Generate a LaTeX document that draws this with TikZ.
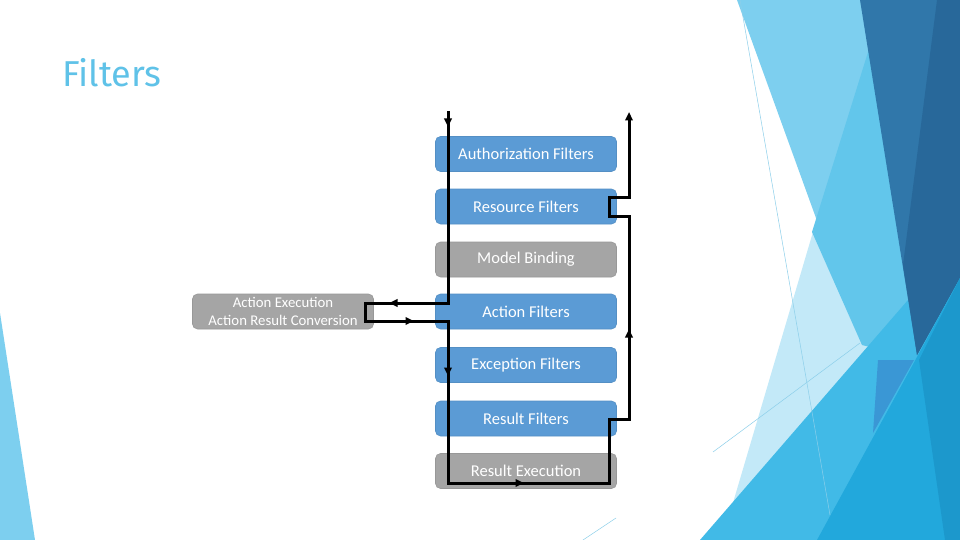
\documentclass[tikz,border=0pt]{standalone}
\usepackage{fontspec}
\newfontfamily\boxfont{Carlito}
\newfontfamily\titlefont{Fira Sans}
\usetikzlibrary{arrows.meta,calc}

\definecolor{stageblue}{HTML}{5B9BD5}
\definecolor{stagegray}{HTML}{A5A5A5}
\definecolor{titleblue}{HTML}{5FC2E8}
\definecolor{facetpale}{HTML}{C3E9F8}
\definecolor{facetlight}{HTML}{7DCFEF}
\definecolor{facetmid}{HTML}{62C6EB}
\definecolor{facetdark}{HTML}{3077AA}
\definecolor{facetdeep}{HTML}{28689A}
\definecolor{facetsky}{HTML}{41BAE7}
\definecolor{facetbright}{HTML}{22A8DC}
\definecolor{facetocean}{HTML}{1C98CC}
\definecolor{facetviolet}{HTML}{3A97D5}
\definecolor{facetline}{HTML}{8CCFEA}

\begin{document}
\begin{tikzpicture}[
  x=1pt, y=-1pt,
  >={Triangle[length=8.5pt,width=7.5pt]},
  line join=miter,
  stage/.style={rounded corners=5pt, minimum width=181pt, minimum height=35pt,
    inner sep=0pt, text=white, line width=0.6pt,
    font=\boxfont\fontsize{16.5}{19}\selectfont},
  bluestage/.style={stage, fill=stageblue, draw=stageblue!92!black},
  graystage/.style={stage, fill=stagegray, draw=stagegray!92!black},
  flow/.style={line width=3pt, black}
]
  \useasboundingbox (0,0) rectangle (960,540);
  \fill[white] (0,0) rectangle (960,540);

  % Facet background, right side
  \fill[facetlight] (737,0) -- (900,0) -- (900,350) -- (862,345) -- cycle;
  \fill[facetpale] (818,215) -- (880,380) -- (722,540) -- cycle;
  \fill[facetmid] (878,20) -- (812,232) -- (862,345) -- (920,360) -- (900,200) -- cycle;
  \fill[facetsky] (700,540) -- (960,240) -- (960,540) -- cycle;
  \fill[facetdark] (860,0) -- (960,0) -- (960,278) -- (917,355) -- cycle;
  \fill[facetdeep] (937,0) -- (960,0) -- (960,278) -- (917,355) -- (903,265) -- cycle;
  \fill[facetbright] (917,357) -- (960,278) -- (960,540) -- (817,540) -- cycle;
  \fill[facetocean] (919,360) -- (960,278) -- (960,540) -- (945,540) -- cycle;
  \fill[facetviolet] (878,360) -- (914,360) -- (873,433) -- cycle;
  \draw[facetline, line width=0.5pt] (740,0) -- (830,515);
  \draw[facetline, line width=0.5pt] (713,452) -- (860,343);
  \draw[facetline, line width=0.5pt] (583,540) -- (616,518);

  % Facet background, left corner
  \fill[facetlight] (0,313) -- (35,540) -- (0,540) -- cycle;

  % Title
  \node[anchor=base west, inner sep=0pt, text=titleblue,
    font=\titlefont\fontsize{36}{40}\selectfont] (title) at (62,87) {Filters};

  % Pipeline stages
  \node[bluestage] (auth)   at (526,154)   {Authorization Filters};
  \node[bluestage] (res)    at (526,206.5) {Resource Filters};
  \node[graystage] (bind)   at (526,259.5) {Model Binding};
  \node[bluestage] (act)    at (526,311.5) {Action Filters};
  \node[bluestage] (exc)    at (526,365)   {Exception Filters};
  \node[bluestage] (resf)   at (526,418.5) {Result Filters};
  \node[graystage] (rexec)  at (526,471)   {Result Execution};
  \node[graystage, align=center, font=\boxfont\fontsize{14.8}{18}\selectfont]
    (exec) at (283,311.5) {Action Execution\\Action Result Conversion};

  % Request path corners
  \coordinate (in)  at (448,111);
  \coordinate (p1)  at (448,303);
  \coordinate (p2)  at (365,303);
  \coordinate (p3)  at (365,321);
  \coordinate (p4)  at (448,321);
  \coordinate (p5)  at (448,483);
  \coordinate (p6)  at (609,483);
  \coordinate (p7)  at (609,419);
  \coordinate (p8)  at (629,419);
  \coordinate (p9)  at (629,216);
  \coordinate (p10) at (609,216);
  \coordinate (p11) at (609,197);
  \coordinate (p12) at (629,197);
  \coordinate (out) at (629,112);

  % Request path
  \draw[flow,->] (in) -- (p1) -- (p2) -- (p3) -- (p4) -- (p5) -- (p6) -- (p7)
    -- (p8) -- (p9) -- (p10) -- (p11) -- (p12) -- (out);

  % Direction marks along the path
  \coordinate (m1) at (448,127);
  \coordinate (m2) at (389,303);
  \coordinate (m3) at (414,321);
  \coordinate (m4) at (448,376);
  \coordinate (m5) at (524,483);
  \coordinate (m6) at (629,329);
  \draw[flow,->] ($(m1)+(0,-6)$) -- (m1);
  \draw[flow,->] ($(m2)+(6,0)$) -- (m2);
  \draw[flow,->] ($(m3)+(-6,0)$) -- (m3);
  \draw[flow,->] ($(m4)+(0,-6)$) -- (m4);
  \draw[flow,->] ($(m5)+(-6,0)$) -- (m5);
  \draw[flow,->] ($(m6)+(0,6)$) -- (m6);
\end{tikzpicture}
\end{document}
